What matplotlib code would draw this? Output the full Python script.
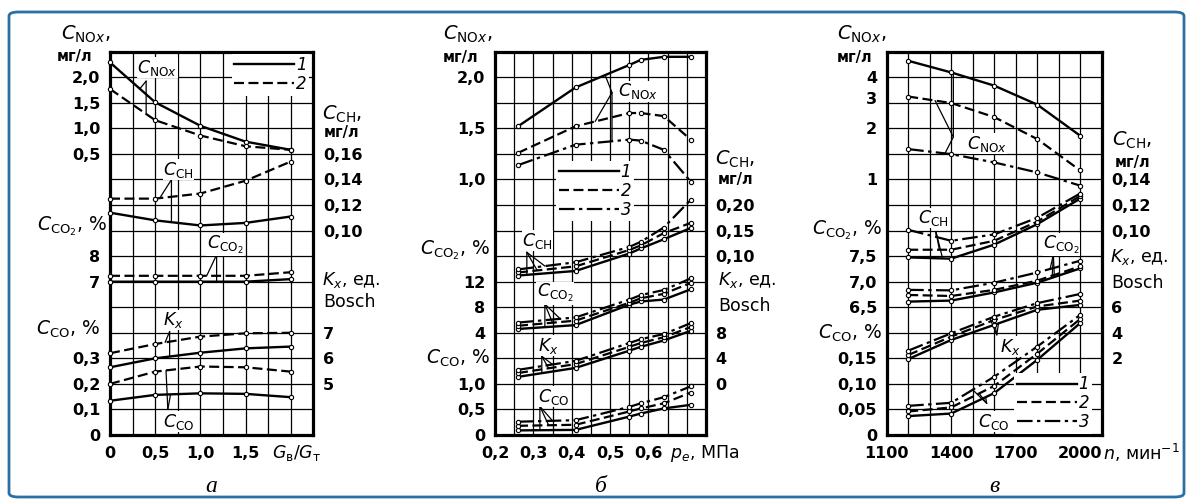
import numpy as np
import matplotlib.pyplot as plt
from matplotlib.lines import Line2D
from matplotlib.patches import FancyBboxPatch
from matplotlib.ticker import NullLocator

W, H = 1192, 501
ROWS = 15  # grid rows in every panel

# ---------------- panel а : x = G_в/G_т ----------------
a_x = [0, 0.5, 1.0, 1.5, 2.0]
a_nox = [[2.29, 1.51, 1.05, 0.74, 0.58], [1.77, 1.16, 0.86, 0.65, 0.58]]
a_ch = [[0.114, 0.108, 0.104, 0.106, 0.111], [0.125, 0.125, 0.129, 0.139, 0.154]]
a_co2 = [[7.0, 7.0, 7.0, 7.0, 7.1], [7.23, 7.23, 7.23, 7.23, 7.37]]
a_kx = [[5.65, 6.0, 6.22, 6.39, 6.46], [6.2, 6.56, 6.85, 6.98, 7.0]]
a_co = [[0.134, 0.157, 0.163, 0.161, 0.148], [0.20, 0.248, 0.268, 0.265, 0.248]]

# ---------------- panel б : x = p_e, МПа ----------------
b_x = [0.26, 0.41, 0.55, 0.58, 0.64, 0.71]
b_nox = [[1.52, 1.90, 2.12, 2.17, 2.20, 2.20],
         [1.26, 1.52, 1.65, 1.65, 1.62, 1.39],
         [1.14, 1.34, 1.39, 1.38, 1.29, 0.98]]
b_ch = [[0.062, 0.071, 0.105, 0.115, 0.133, 0.155],
        [0.068, 0.080, 0.112, 0.121, 0.145, 0.165],
        [0.074, 0.088, 0.118, 0.128, 0.156, 0.210]]
b_co2 = [[4.6, 5.2, 8.4, 8.9, 9.2, 10.8],
         [5.1, 5.9, 8.7, 9.4, 10.1, 11.8],
         [5.6, 6.4, 9.2, 9.9, 10.7, 12.5]]
b_kx = [[1.1, 2.5, 5.2, 5.8, 6.8, 8.3],
        [1.7, 3.1, 5.8, 6.4, 7.3, 8.9],
        [2.2, 3.6, 6.4, 7.0, 7.8, 9.5]]
b_co = [[0.09, 0.10, 0.36, 0.42, 0.52, 0.59],
        [0.18, 0.20, 0.46, 0.52, 0.62, 0.83],
        [0.26, 0.29, 0.55, 0.62, 0.74, 0.95]]

# ---------------- panel в : x = n, мин-1 ----------------
c_x = [1200, 1400, 1600, 1800, 2000]
c_nox = [[5.0, 4.27, 3.57, 2.76, 1.81],
         [3.08, 2.82, 2.33, 1.73, 1.13],
         [1.51, 1.41, 1.26, 1.10, 0.92]]
c_ch = [[0.079, 0.078, 0.089, 0.105, 0.125],
        [0.085, 0.085, 0.092, 0.107, 0.127],
        [0.1006, 0.092, 0.097, 0.110, 0.129]]
c_co2 = [[6.61, 6.63, 6.79, 6.98, 7.26],
         [6.74, 6.72, 6.84, 7.02, 7.30],
         [6.84, 6.83, 6.98, 7.18, 7.41]]
c_kx = [[1.94, 3.44, 4.62, 5.80, 6.18],
        [2.26, 3.70, 5.00, 6.06, 6.52],
        [2.60, 3.96, 5.26, 6.32, 7.04]]
c_co = [[0.037, 0.042, 0.082, 0.147, 0.219],
        [0.046, 0.054, 0.096, 0.159, 0.227],
        [0.057, 0.063, 0.114, 0.173, 0.235]]

# tick values / labels
a_xt, a_xl = [0, 0.5, 1.0, 1.5], ['0', '0,5', '1,0', '1,5']
b_xt, b_xl = [0.2, 0.3, 0.4, 0.5, 0.6], ['0,2', '0,3', '0,4', '0,5', '0,6']
c_xt, c_xl = [1100, 1400, 1700, 2000], ['1100', '1400', '1700', '2000']

a_ticks = {'nox': ([0.5, 1.0, 1.5, 2.0], ['0,5', '1,0', '1,5', '2,0']),
           'ch': ([0.10, 0.12, 0.14, 0.16], ['0,10', '0,12', '0,14', '0,16']),
           'co2': ([7, 8], ['7', '8']),
           'kx': ([5, 6, 7], ['5', '6', '7']),
           'co': ([0, 0.1, 0.2, 0.3], ['0', '0,1', '0,2', '0,3'])}
b_ticks = {'nox': ([1.0, 1.5, 2.0], ['1,0', '1,5', '2,0']),
           'ch': ([0.10, 0.15, 0.20], ['0,10', '0,15', '0,20']),
           'co2': ([4, 8, 12], ['4', '8', '12']),
           'kx': ([0, 4, 8], ['0', '4', '8']),
           'co': ([0, 0.5, 1.0], ['0', '0,5', '1,0'])}
c_ticks = {'nox': ([1, 2, 3, 4], ['1', '2', '3', '4']),
           'ch': ([0.10, 0.12, 0.14], ['0,10', '0,12', '0,14']),
           'co2': ([6.5, 7.0, 7.5], ['6,5', '7,0', '7,5']),
           'kx': ([2, 4, 6], ['2', '4', '6']),
           'co': ([0, 0.05, 0.10, 0.15], ['0', '0,05', '0,10', '0,15'])}

NOX = r'$C_{\mathrm{NO}x}$'
CH = r'$C_{\mathrm{CH}}$'
CO2 = r'$C_{\mathrm{CO}_2}$'
CO = r'$C_{\mathrm{CO}}$'
KX = r'$K_x$'

STY = [dict(ls='-', lw=1.7),
       dict(ls=(0, (4.5, 2.0)), lw=1.6),
       dict(ls=(0, (7, 2, 1.5, 2)), lw=1.6)]


def lims(v0, r0, dv):
    # value v0 sits on grid row r0, one row = dv
    return (v0 - r0 * dv, v0 + (ROWS - r0) * dv)


def px_rect(l, r, t=51.7, b=435):
    return [l / W, (H - b) / H, (r - l) / W, (b - t) / H]


fig = plt.figure(figsize=(W / 100, H / 100), dpi=100)
fig.patch.set_facecolor('white')
fig.add_artist(FancyBboxPatch((9 / W, 4 / H), 1175 / W, 485 / H,
                              boxstyle='round,pad=0,rounding_size=0.008',
                              transform=fig.transFigure, fc='none',
                              ec='#2c6fa3', lw=2))


def base_axes(rect, xlim, xstep, xt, xl):
    ax = fig.add_axes(rect)
    ax.set_xlim(xlim)
    ax.set_ylim(0, ROWS)
    gx = np.arange(xlim[0], xlim[1] + xstep / 2, xstep)
    lab = {round(v, 3): s for v, s in zip(xt, xl)}
    ax.set_xticks(gx)
    ax.set_xticklabels([lab.get(round(v, 3), '') for v in gx],
                       fontweight='bold', fontsize=11.5)
    ax.set_yticks(range(ROWS + 1))
    ax.set_yticklabels([])
    ax.grid(True, color='k', lw=0.9)
    ax.tick_params(length=0, pad=8)
    for s in ax.spines.values():
        s.set_linewidth(2.3)
    return ax


def overlay(rect, xlim, ylim, ticks, side, log=False):
    ov = fig.add_axes(rect)
    ov.patch.set_visible(False)
    ov.set_xlim(xlim)
    if log:
        ov.set_yscale('log', base=2)
    ov.set_ylim(ylim)
    ov.set_xticks([])
    ov.set_yticks(ticks[0])
    ov.set_yticklabels(ticks[1], fontweight='bold', fontsize=11.5)
    ov.yaxis.set_minor_locator(NullLocator())
    if side == 'right':
        ov.yaxis.tick_right()
    ov.tick_params(axis='y', length=0, pad=7)
    for s in ov.spines.values():
        s.set_visible(False)
    return ov


def draw(ov, xs, series):
    for k, ys in enumerate(series):
        ov.plot(xs, ys, color='k', marker='o', ms=3.1, mfc='white',
                mew=0.8, clip_on=False, **STY[k])


def side_text(ax, side, row, s, dx, **kw):
    x = 0 if side == 'left' else 1
    ax.annotate(s, xy=(x, row), xycoords=('axes fraction', 'data'),
                xytext=(dx, 0), textcoords='offset pixels',
                ha='right' if side == 'left' else 'left', va='center',
                annotation_clip=False, **kw)


def callout(ax, ovs, xs, data, text, tpos, apex, legs):
    ax.text(tpos[0], tpos[1], text, fontsize=12.5, ha='left', va='center',
            bbox=dict(fc='white', ec='none', pad=0.3), zorder=5)
    for key, k, xt in legs:
        ys = np.asarray(data[key][k], float)
        if ovs[key].get_yscale() == 'log':
            yv = np.exp(np.interp(xt, xs, np.log(ys)))
        else:
            yv = np.interp(xt, xs, ys)
        ax.annotate('', xy=(xt, yv), xycoords=ovs[key].transData,
                    xytext=apex, textcoords='data', annotation_clip=False,
                    arrowprops=dict(arrowstyle='-', lw=0.9, color='k',
                                    shrinkA=0, shrinkB=0))


def legend(ov, n, loc_xy):
    hs = [Line2D([], [], color='k', **STY[k]) for k in range(n)]
    lg = ov.legend(hs, [str(k + 1) for k in range(n)], loc='center',
                   bbox_to_anchor=loc_xy, frameon=True, framealpha=1,
                   edgecolor='none', fancybox=False, handlelength=3.6,
                   handletextpad=0.1, labelspacing=0.05, borderpad=0.15,
                   prop={'size': 12, 'style': 'italic'})
    lg.set_zorder(10)


def panel(rect, xlim, xstep, xt, xl, xs, data, ticks, spec, lab_rows, calls,
          leg_xy, xname, letter, log_nox=False):
    ax = base_axes(rect, xlim, xstep, xt, xl)
    ovs = {}
    for key in ['nox', 'ch', 'co2', 'kx', 'co']:
        side = 'right' if key in ('ch', 'kx') else 'left'
        ovs[key] = overlay(rect, xlim, spec[key], ticks[key], side,
                           log=(log_nox and key == 'nox'))
        draw(ovs[key], xs, data[key])
    r = lab_rows
    side_text(ax, 'left', r['nox'][0], NOX + ',', r['nox'][1], fontsize=14)
    side_text(ax, 'left', r['nox'][2], 'мг/л', r['nox'][3], fontsize=10.5,
              fontweight='bold')
    side_text(ax, 'right', r['ch'][0], CH + ',', r['ch'][1], fontsize=14)
    side_text(ax, 'right', r['ch'][2], 'мг/л', r['ch'][3], fontsize=10.5,
              fontweight='bold')
    side_text(ax, 'left', r['co2'][0], CO2 + ', %', r['co2'][1], fontsize=13.5)
    side_text(ax, 'right', r['kx'][0], KX + ', ед.', r['kx'][1], fontsize=12.5)
    side_text(ax, 'right', r['kx'][2], 'Bosch', r['kx'][3], fontsize=12.5)
    side_text(ax, 'left', r['co'][0], CO + ', %', r['co'][1], fontsize=13.5)
    for text, tpos, apex, legs in calls:
        callout(ax, ovs, xs, data, text, tpos, apex, legs)
    legend(ovs['co'], len(data['nox']), leg_xy)
    ax.annotate(xname[0], xy=(xname[1], 0), xycoords='data',
                xytext=(0, -18), textcoords='offset pixels',
                ha=xname[2], va='center', fontsize=12.5,
                annotation_clip=False)
    ax.text(0.5, -0.135, letter, transform=ax.transAxes, ha='center',
            va='center', fontsize=17, style='italic',
            family='Liberation Serif')
    return ax


# ---------- panel а ----------
panel(px_rect(110, 313.3), (0, 2.25), 0.25, a_xt, a_xl, a_x,
      {'nox': a_nox, 'ch': a_ch, 'co2': a_co2, 'kx': a_kx, 'co': a_co},
      a_ticks,
      {'nox': lims(0.5, 11, 0.5), 'ch': lims(0.10, 8, 0.02),
       'co2': lims(7, 6, 1), 'kx': lims(5, 2, 1), 'co': lims(0, 0, 0.1)},
      {'nox': (15.67, 0, 14.8, -18), 'ch': (12.53, 9, 11.83, 10),
       'co2': (8.16, -3), 'kx': (6.07, 9, 5.22, 10), 'co': (4.15, -10)},
      [(NOX, (0.30, 14.37), (0.40, 13.85), [('nox', 0, 0.33), ('nox', 1, 0.40)]),
       (CH, (0.59, 10.38), (0.68, 9.99), [('ch', 1, 0.55), ('ch', 0, 0.68)]),
       (CO2, (1.07, 7.44), (1.18, 7.05), [('co2', 1, 1.07), ('co2', 0, 1.18)]),
       (KX, (0.59, 4.5), (0.66, 4.05), [('kx', 1, 0.61), ('kx', 0, 0.66)]),
       (CO, (0.59, 0.52), (0.64, 1.0), [('co', 1, 0.62), ('co', 0, 0.67)])],
      (0.79, 0.94), (r'$G_{\mathrm{в}}/G_{\mathrm{т}}$', 2.07, 'center'), 'а')

# ---------- panel б ----------
panel(px_rect(495, 706), (0.2, 0.75), 0.05, b_xt, b_xl, b_x,
      {'nox': b_nox, 'ch': b_ch, 'co2': b_co2, 'kx': b_kx, 'co': b_co},
      b_ticks,
      {'nox': lims(1.0, 10, 0.25), 'ch': lims(0.10, 7, 0.05),
       'co2': lims(4, 4, 4), 'kx': lims(0, 2, 4), 'co': lims(0, 0, 0.5)},
      {'nox': (15.67, -3, 14.77, -17), 'ch': (10.8, 9, 9.99, 12),
       'co2': (7.25, -5), 'kx': (6.07, 12, 5.03, 12), 'co': (3.0, -5)},
      [(NOX, (0.52, 13.45), (0.505, 13.4),
        [('nox', 0, 0.487), ('nox', 1, 0.461), ('nox', 2, 0.505)]),
       (CH, (0.27, 7.6), (0.283, 7.15),
        [('ch', 2, 0.33), ('ch', 1, 0.31), ('ch', 0, 0.283)]),
       (CO2, (0.309, 5.55), (0.33, 5.12),
        [('co2', 2, 0.37), ('co2', 1, 0.35), ('co2', 0, 0.33)]),
       (KX, (0.312, 3.49), (0.322, 3.08),
        [('kx', 2, 0.35), ('kx', 1, 0.34), ('kx', 0, 0.322)]),
       (CO, (0.312, 1.5), (0.317, 1.12),
        [('co', 2, 0.35), ('co', 1, 0.34), ('co', 0, 0.317)])],
      (0.474, 0.637), (r'$p_e$, МПа', 0.657, 'left'), 'б')

# ---------- panel в ----------
panel(px_rect(886.7, 1101.7), (1100, 2100), 100, c_xt, c_xl, c_x,
      {'nox': c_nox, 'ch': c_ch, 'co2': c_co2, 'kx': c_kx, 'co': c_co},
      c_ticks,
      {'nox': (2 ** -5, 2 ** 2.5), 'ch': lims(0.10, 8, 0.02),
       'co2': lims(7.0, 6, 0.5), 'kx': lims(2, 3, 2), 'co': lims(0, 0, 0.05)},
      {'nox': (15.67, 0, 14.77, -14), 'ch': (11.55, 10, 10.65, 13),
       'co2': (8.03, -5), 'kx': (6.98, 8, 5.94, 10), 'co': (3.98, -5)},
      [(NOX, (1472, 11.4), (1410, 11.66),
        [('nox', 0, 1410), ('nox', 1, 1325), ('nox', 2, 1371)]),
       (CH, (1246, 8.49), (1329, 7.96),
        [('ch', 2, 1330), ('ch', 1, 1345), ('ch', 0, 1360)]),
       (CO2, (1827, 7.44), (1875, 7.05),
        [('co2', 2, 1860), ('co2', 1, 1870), ('co2', 0, 1880)]),
       (KX, (1627, 3.46), (1612, 3.92),
        [('kx', 2, 1580), ('kx', 1, 1600), ('kx', 0, 1620)]),
       (CO, (1525, 0.52), (1565, 1.24),
        [('co', 2, 1500), ('co', 1, 1530), ('co', 0, 1560)])],
      (0.774, 0.083), (r'$n$, мин$^{-1}$', 2106, 'left'), 'в', log_nox=True)

fig.savefig('out.png', dpi=100)
